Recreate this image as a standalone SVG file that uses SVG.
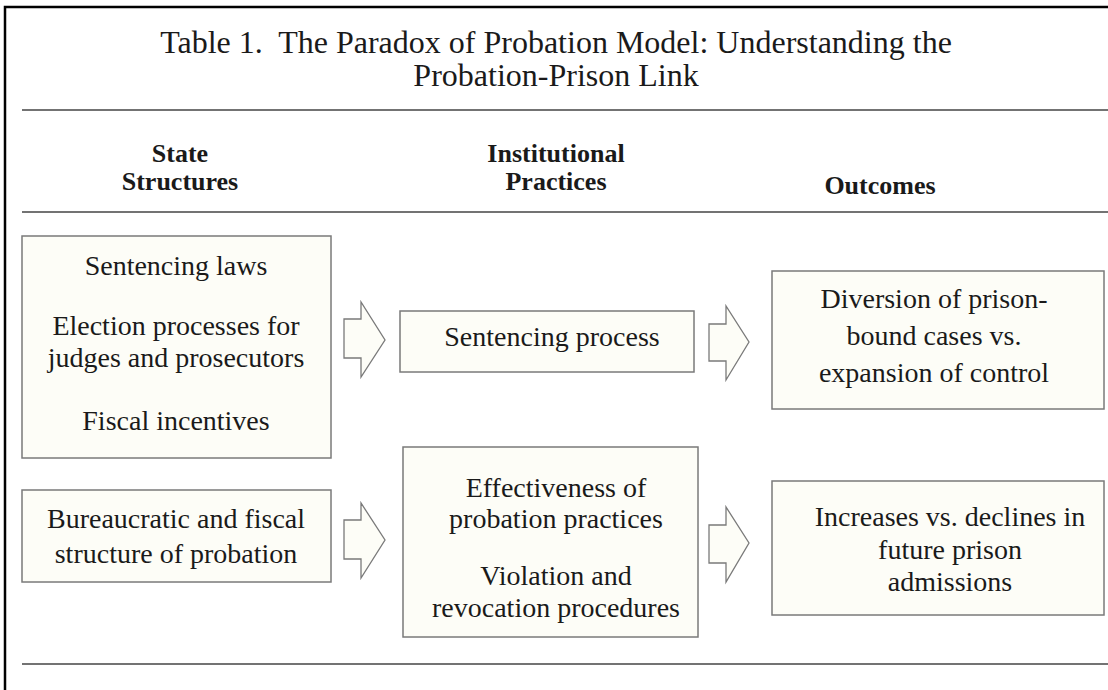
<svg xmlns="http://www.w3.org/2000/svg" width="1108" height="690" viewBox="0 0 1108 690">
<style>
.t{font-family:"Liberation Serif","Times New Roman",serif;fill:#1a1a1a;text-anchor:middle}
.title{font-size:32px}
.h{font-size:26px;font-weight:bold}
.b{font-size:28px}
.box{fill:#fdfdf7;stroke:#7a7a7a;stroke-width:1.5}
.arr{fill:#fdfdf7;stroke:#7a7a7a;stroke-width:1.3;stroke-linejoin:miter}
.rule{stroke:#444;stroke-width:1.5}
</style>
<rect width="1108" height="690" fill="#fff"/>
<path d="M5,700 V7 H1120" fill="none" stroke="#000" stroke-width="2.5"/>
<g id="title">
<text class="t title" x="556" y="53" xml:space="preserve">Table 1.  The Paradox of Probation Model: Understanding the</text>
<text class="t title" x="556" y="86">Probation-Prison Link</text>
</g>
<line class="rule" x1="22" y1="110" x2="1108" y2="110"/>
<g id="headers">
<text class="t h" x="180" y="162">State</text>
<text class="t h" x="180" y="190">Structures</text>
<text class="t h" x="556" y="162">Institutional</text>
<text class="t h" x="556" y="190">Practices</text>
<text class="t h" x="880" y="194">Outcomes</text>
</g>
<line class="rule" x1="22" y1="212" x2="1108" y2="212"/>
<line class="rule" x1="22" y1="664" x2="1108" y2="664"/>
<g id="n1">
<rect class="box" x="22" y="236" width="309" height="222"/>
<text class="t b" x="176" y="275">Sentencing laws</text>
<text class="t b" x="176" y="335">Election processes for</text>
<text class="t b" x="176" y="367">judges and prosecutors</text>
<text class="t b" x="176" y="430">Fiscal incentives</text>
</g>
<g id="n2">
<rect class="box" x="400" y="311" width="294" height="61"/>
<text class="t b" x="552" y="346">Sentencing process</text>
</g>
<g id="n3">
<rect class="box" x="772" y="271" width="332" height="138"/>
<text class="t b" x="934" y="308">Diversion of prison-</text>
<text class="t b" x="934" y="345">bound cases vs.</text>
<text class="t b" x="934" y="382">expansion of control</text>
</g>
<g id="n4">
<rect class="box" x="22" y="490" width="309" height="92"/>
<text class="t b" x="176" y="528">Bureaucratic and fiscal</text>
<text class="t b" x="176" y="563">structure of probation</text>
</g>
<g id="n5">
<rect class="box" x="403" y="447" width="295" height="190"/>
<text class="t b" x="556" y="497">Effectiveness of</text>
<text class="t b" x="556" y="528">probation practices</text>
<text class="t b" x="556" y="585">Violation and</text>
<text class="t b" x="556" y="617">revocation procedures</text>
</g>
<g id="n6">
<rect class="box" x="772" y="481" width="332" height="134"/>
<text class="t b" x="950" y="526">Increases vs. declines in</text>
<text class="t b" x="950" y="559">future prison</text>
<text class="t b" x="950" y="591">admissions</text>
</g>
<g id="connectors">
<path class="arr" d="M344,319 H361 V302 L385,340 L361,377 V358 H344 Z"/>
<path class="arr" d="M709,324 H726 V306 L749,342 L726,380 V361 H709 Z"/>
<path class="arr" d="M344,520 H361 V503 L385,540 L361,578 V559 H344 Z"/>
<path class="arr" d="M709,525 H726 V507 L749,543 L726,582 V563 H709 Z"/>
</g>
</svg>
